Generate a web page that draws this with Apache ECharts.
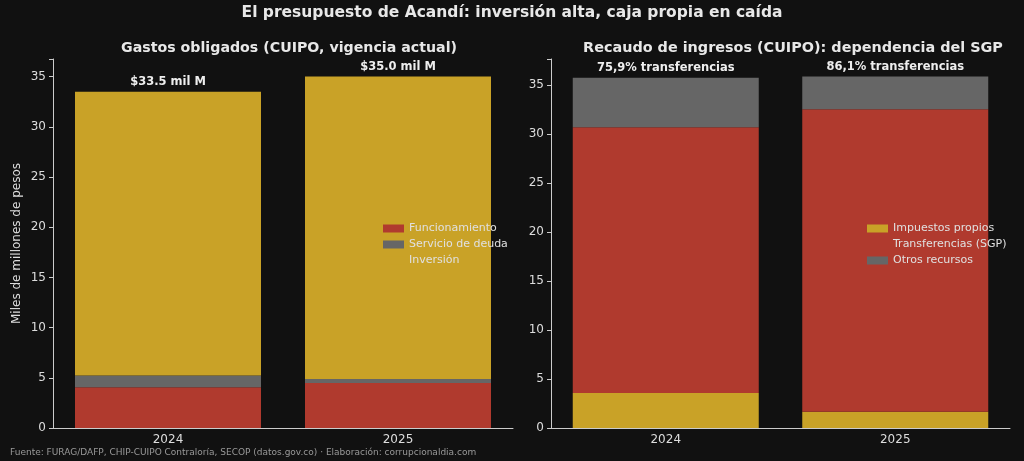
<!DOCTYPE html>
<html><head><meta charset="utf-8">
<script src="https://cdn.jsdelivr.net/npm/echarts@6/dist/echarts.min.js"></script>
<style>html,body{margin:0;padding:0;background:#111111;}#c{width:1024px;height:461px;}</style>
</head><body><div id="c"></div>
<script>
const years = ['2024', '2025'];
// Gastos obligados (miles de millones)
const funcionamiento = [4.05, 4.48];
const servicioDeuda = [1.17, 0.40];
const inversion = [28.28, 30.12];
const gastosLabels = ['$33.5 mil M', '$35.0 mil M'];
// Recaudo de ingresos
const impuestos = [3.57, 1.66];
const transferencias = [27.10, 30.86];
const otros = [5.05, 3.33];
const recaudoLabels = ['75,9% transferencias', '86,1% transferencias'];

const GOLD = '#C9A227', RED = '#B03A2E', GREY = '#666666';
const FONT = 'DejaVu Sans';
const TXT = '#dddddd';

const sum = (...arrs) => arrs[0].map((_, i) => arrs.reduce((s, a) => s + a[i], 0));
const leftMax = Math.max(...sum(funcionamiento, servicioDeuda, inversion)) * 1.05;
const rightMax = Math.max(...sum(impuestos, transferencias, otros)) * 1.05;

const chart = echarts.init(document.getElementById('c'));
function xAx(gi) {
  return {
    type: 'category', gridIndex: gi, data: years,
    axisLine: { lineStyle: { color: '#cccccc', width: 1 } },
    axisTick: { alignWithLabel: true, length: 4, lineStyle: { color: '#cccccc' } },
    axisLabel: { color: TXT, fontFamily: FONT, fontSize: 12, margin: 6 }
  };
}
function yAx(gi, max, name) {
  return {
    type: 'value', gridIndex: gi, min: 0, max: max, interval: 5,
    name: name, nameLocation: 'middle', nameGap: 30,
    nameTextStyle: { color: TXT, fontFamily: FONT, fontSize: 12 },
    splitLine: { show: false },
    axisLine: { show: true, lineStyle: { color: '#cccccc', width: 1 } },
    axisTick: { show: true, length: 4, lineStyle: { color: '#cccccc' } },
    axisLabel: { color: TXT, fontFamily: FONT, fontSize: 12, margin: 7,
      formatter: v => (v > max - 0.01 && v % 5 !== 0) ? '' : v }
  };
}
function bar(name, data, color, gi, stack, topLabels) {
  const s = {
    name: name, type: 'bar', xAxisIndex: gi, yAxisIndex: gi, stack: stack,
    data: data, barWidth: 186,
    itemStyle: { color: color },
  };
  if (topLabels) {
    s.label = { show: true, position: 'top', distance: 4, color: '#eeeeee',
      fontFamily: FONT, fontSize: 11.5, fontWeight: 'bold',
      formatter: p => topLabels[p.dataIndex] };
  }
  return s;
}
const legendText = { color: '#e0e0e0', fontFamily: FONT, fontSize: 11 };
chart.setOption({
  backgroundColor: '#111111',
  animation: false,
  title: [
    { text: 'El presupuesto de Acandí: inversión alta, caja propia en caída', left: 'center', top: 0,
      textStyle: { color: '#e8e8e8', fontFamily: FONT, fontSize: 15.5, fontWeight: 'bold' } },
    { text: 'Gastos obligados (CUIPO, vigencia actual)', left: 284, top: 36, textAlign: 'center',
      textStyle: { color: '#e8e8e8', fontFamily: FONT, fontSize: 14.2, fontWeight: 'bold' } },
    { text: 'Recaudo de ingresos (CUIPO): dependencia del SGP', left: 788, top: 36, textAlign: 'center',
      textStyle: { color: '#e8e8e8', fontFamily: FONT, fontSize: 14.4, fontWeight: 'bold' } },
    { text: 'Fuente: FURAG/DAFP, CHIP-CUIPO Contraloría, SECOP (datos.gov.co) · Elaboración: corrupcionaldia.com',
      left: 10, top: 448, padding: 0, textStyle: { color: '#999999', fontFamily: FONT, fontSize: 9, fontWeight: 'normal' } }
  ],
  legend: [
    { data: ['Funcionamiento', 'Servicio de deuda', 'Inversión'], orient: 'vertical', left: 378, top: 218,
      icon: 'rect', itemWidth: 21, itemHeight: 8, itemGap: 5, textStyle: legendText },
    { data: ['Impuestos propios', 'Transferencias (SGP)', 'Otros recursos'], orient: 'vertical', left: 862, top: 218,
      icon: 'rect', itemWidth: 21, itemHeight: 8, itemGap: 5, textStyle: legendText }
  ],
  grid: [
    { left: 53, right: 511, top: 59, bottom: 33 },
    { left: 551, right: 14, top: 59, bottom: 33 }
  ],
  xAxis: [xAx(0), xAx(1)],
  yAxis: [yAx(0, leftMax, 'Miles de millones de pesos'), yAx(1, rightMax, '')],
  series: [
    bar('Funcionamiento', funcionamiento, RED, 0, 'g'),
    bar('Servicio de deuda', servicioDeuda, GREY, 0, 'g'),
    bar('Inversión', inversion, GOLD, 0, 'g', gastosLabels),
    bar('Impuestos propios', impuestos, GOLD, 1, 'r'),
    bar('Transferencias (SGP)', transferencias, RED, 1, 'r'),
    bar('Otros recursos', otros, GREY, 1, 'r', recaudoLabels)
  ]
});
</script></body></html>
